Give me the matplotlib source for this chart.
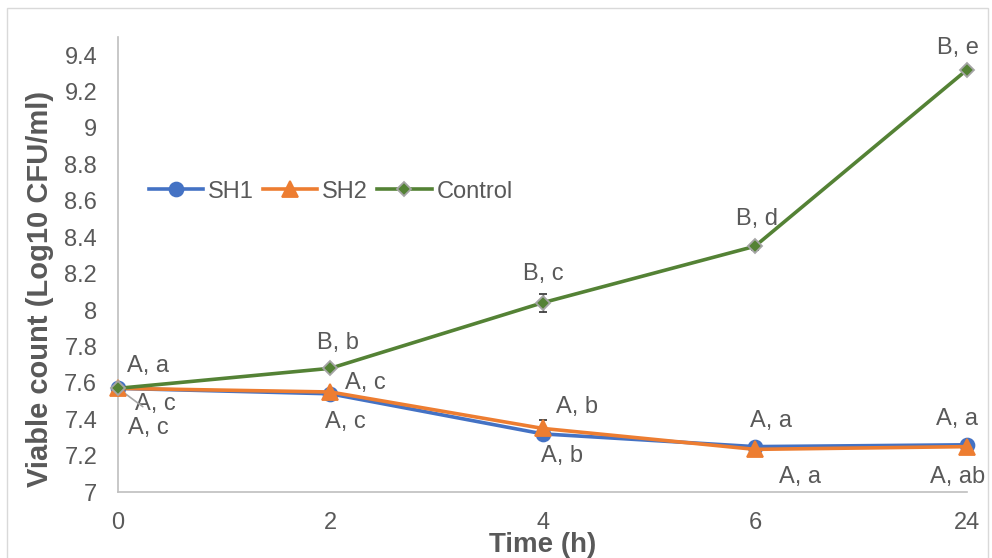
import numpy as np
import matplotlib.pyplot as plt
from matplotlib.patches import Rectangle
from matplotlib.lines import Line2D

plt.rcParams['font.family'] = ['Liberation Sans', 'DejaVu Sans']

# data
times = ['0', '2', '4', '6', '24']
sh1 = [7.57, 7.54, 7.32, 7.25, 7.26]
sh1_err = [0.01, 0.01, 0.01, 0.02, 0.01]
sh2 = [7.57, 7.55, 7.35, 7.235, 7.25]
sh2_err = [0.01, 0.01, 0.045, 0.035, 0.01]
control = [7.57, 7.68, 8.04, 8.35, 9.32]
control_err = [0.01, 0.01, 0.05, 0.02, 0.01]

sh1_labels = ['A, c', 'A, c', 'A, b', 'A, a', 'A, a']
sh2_labels = ['A, c', 'A, c', 'A, b', 'A, a', 'A, ab']
control_labels = ['A, a', 'B, b', 'B, c', 'B, d', 'B, e']

# label offsets in pixels (dx, dy)
sh1_offsets = [(30, -40), (15, -28), (19, -22), (16, 26), (-10, 26)]
sh2_offsets = [(37, -16), (35, 9), (34, 21), (45, -28), (-10, -30)]
control_offsets = [(30, 22), (8, 25), (1, 29), (2, 27), (-9, 22)]

text_col = '#595959'
x = np.arange(len(times))

fig = plt.figure(figsize=(9.92, 5.58), dpi=100)
ax = fig.add_axes([0.119, 0.118, 0.856, 0.816])

series = [
    (sh1, sh1_err, 'SH1', '#4472C4', 'o', '#4472C4', 10),
    (sh2, sh2_err, 'SH2', '#ED7D31', '^', '#ED7D31', 11),
    (control, control_err, 'Control', '#548235', 'D', '#A5A5A5', 7.5),
]
handles = []
for vals, err, name, col, mk, edge, ms in series:
    ax.errorbar(x, vals, yerr=err, color=col, lw=2.6, marker=mk, ms=ms,
                mfc=col, mec=edge, mew=1.3, ecolor='#404040', elinewidth=1,
                capsize=3, zorder=3, clip_on=False)
    handles.append(Line2D([], [], color=col, lw=2.6, marker=mk, ms=ms,
                          mfc=col, mec=edge, mew=1.3, label=name))

fontkw = dict(fontsize=17, color=text_col, ha='center', va='center')
for labels, offs, vals in [(sh1_labels, sh1_offsets, sh1),
                           (sh2_labels, sh2_offsets, sh2),
                           (control_labels, control_offsets, control)]:
    for i, (lab, off) in enumerate(zip(labels, offs)):
        ax.annotate(lab, (x[i], vals[i]), xytext=off,
                    textcoords='offset pixels', annotation_clip=False, **fontkw)

# leader line for the SH2 label at time 0
ax.annotate('', (x[0], sh2[0]), xytext=(27, -20), textcoords='offset pixels',
            arrowprops=dict(arrowstyle='-', color='#A5A5A5', lw=1.2))

ax.set_xlim(0, len(times) - 1)
ax.set_ylim(7, 9.5)
ax.set_xticks(x)
ax.set_xticklabels(times)
ax.set_yticks(np.arange(7, 9.41, 0.2))
ax.set_yticklabels(['7', '7.2', '7.4', '7.6', '7.8', '8', '8.2', '8.4',
                    '8.6', '8.8', '9', '9.2', '9.4'])
ax.tick_params(length=0, labelsize=17, colors=text_col)
ax.tick_params(axis='x', pad=14)
ax.tick_params(axis='y', pad=15)

for s in ['top', 'right']:
    ax.spines[s].set_visible(False)
for s in ['left', 'bottom']:
    ax.spines[s].set_color('#BFBFBF')
    ax.spines[s].set_linewidth(1.2)

ax.set_xlabel('Time (h)', fontsize=20, fontweight='bold', color=text_col,
              labelpad=-1)
ax.set_ylabel('Viable count (Log10 CFU/ml)', fontsize=21, fontweight='bold',
              color=text_col)
ax.yaxis.set_label_coords(-0.075, 0.446)

ax.legend(handles=handles, loc='center left', bbox_to_anchor=(0.036, 0.66),
          ncol=3, frameon=False, fontsize=17, labelcolor=text_col,
          handlelength=2.3, handletextpad=0.2, columnspacing=0.4,
          borderpad=0, borderaxespad=0)

fig.patches.append(Rectangle((0.007, -0.01), 0.989, 0.995,
                             transform=fig.transFigure, fill=False,
                             edgecolor='#D9D9D9', lw=1))

fig.savefig('out.png', dpi=100)
